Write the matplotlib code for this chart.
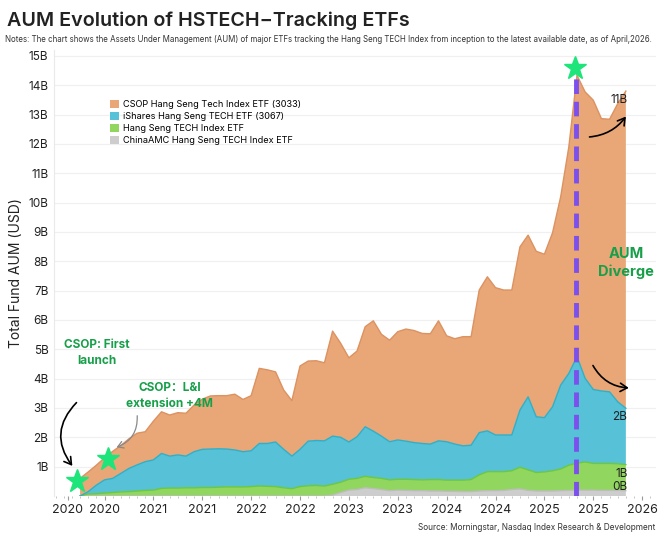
import numpy as np
import matplotlib
matplotlib.use("Agg")
import matplotlib.pyplot as plt
from matplotlib.patches import Patch

plt.rcParams['font.family'] = ['Inter', 'Noto Sans CJK SC', 'DejaVu Sans']

# Monthly AUM (USD billions), Aug 2020 -> Mar 2026
months = ['2020-08', '2020-09', '2020-10', '2020-11', '2020-12',
          '2021-01', '2021-02', '2021-03', '2021-04', '2021-05', '2021-06',
          '2021-07', '2021-08', '2021-09', '2021-10', '2021-11', '2021-12',
          '2022-01', '2022-02', '2022-03', '2022-04', '2022-05', '2022-06',
          '2022-07', '2022-08', '2022-09', '2022-10', '2022-11', '2022-12',
          '2023-01', '2023-02', '2023-03', '2023-04', '2023-05', '2023-06',
          '2023-07', '2023-08', '2023-09', '2023-10', '2023-11', '2023-12',
          '2024-01', '2024-02', '2024-03', '2024-04', '2024-05', '2024-06',
          '2024-07', '2024-08', '2024-09', '2024-10', '2024-11', '2024-12',
          '2025-01', '2025-02', '2025-03', '2025-04', '2025-05', '2025-06',
          '2025-07', '2025-08', '2025-09', '2025-10', '2025-11', '2025-12',
          '2026-01', '2026-02', '2026-03']

csop = [0.60, 0.67, 0.68, 0.75, 0.92, 0.95, 1.01, 1.08, 1.02, 1.32, 1.42,
        1.40, 1.44, 1.46, 1.59, 1.71, 1.81, 1.81, 1.82, 1.90, 1.78, 1.88,
        2.56, 2.51, 2.39, 2.02, 1.89, 2.84, 2.73, 2.72, 2.66, 3.58, 3.20,
        2.87, 2.92, 3.41, 3.76, 3.47, 3.46, 3.69, 3.82, 3.82, 3.75, 3.76,
        4.09, 3.61, 3.59, 3.72, 3.70, 4.86, 5.25, 5.02, 4.94, 4.94, 5.56,
        5.51, 5.64, 5.57, 5.93, 6.42, 7.72, 9.59, 9.76, 9.86, 9.28, 9.29,
        10.16, 10.81]
ishares = [0.00, 0.08, 0.29, 0.45, 0.48, 0.63, 0.79, 0.89, 0.98, 1.03, 1.19,
           1.09, 1.13, 1.08, 1.23, 1.30, 1.31, 1.31, 1.29, 1.26, 1.20, 1.22,
           1.45, 1.46, 1.52, 1.31, 1.11, 1.27, 1.52, 1.53, 1.54, 1.64, 1.53,
           1.27, 1.42, 1.69, 1.58, 1.44, 1.30, 1.34, 1.30, 1.26, 1.24, 1.21,
           1.32, 1.31, 1.23, 1.17, 1.17, 1.44, 1.39, 1.25, 1.25, 1.22, 1.95,
           2.49, 1.90, 1.85, 2.18, 2.86, 3.13, 3.63, 2.85, 2.52, 2.47, 2.44,
           2.11, 1.92]
hstech = [0.00, 0.07, 0.08, 0.10, 0.12, 0.14, 0.15, 0.17, 0.19, 0.20, 0.26,
          0.27, 0.27, 0.28, 0.28, 0.29, 0.29, 0.30, 0.31, 0.31, 0.31, 0.32,
          0.34, 0.33, 0.32, 0.28, 0.25, 0.32, 0.35, 0.36, 0.34, 0.37, 0.35,
          0.37, 0.38, 0.39, 0.38, 0.38, 0.37, 0.37, 0.38, 0.38, 0.37, 0.39,
          0.39, 0.38, 0.38, 0.39, 0.41, 0.55, 0.65, 0.65, 0.64, 0.64, 0.74,
          0.70, 0.63, 0.65, 0.69, 0.74, 0.86, 0.92, 0.96, 0.91, 0.92, 0.92,
          0.91, 0.89]
chinaamc = [0.00] * 31 + [0.03, 0.12, 0.20, 0.22, 0.28, 0.25, 0.22, 0.18,
                          0.20, 0.19, 0.18, 0.18, 0.17, 0.17, 0.16, 0.16,
                          0.15, 0.15, 0.17, 0.18, 0.18, 0.19, 0.22, 0.24,
                          0.19, 0.17, 0.17, 0.17, 0.18, 0.19, 0.20, 0.20,
                          0.20, 0.19, 0.19, 0.19, 0.18]

labels = ['CSOP Hang Seng Tech Index ETF (3033)',
          'iShares Hang Seng TECH ETF (3067)',
          'Hang Seng TECH Index ETF',
          'ChinaAMC Hang Seng TECH Index ETF']
colors = ['#E9A677', '#56C1D7', '#91D65F', '#CDCDCD']
edge_colors = ['#DC9261', '#2FB0C8', '#6CC83E', '#BDBDBD']

tick_months = ['2020-11', '2021-05', '2021-11', '2022-05', '2022-11', '2023-05',
               '2023-11', '2024-05', '2024-11', '2025-05', '2025-11']

x = np.arange(len(months))

fig = plt.figure(figsize=(6.62, 5.41), dpi=100)
ax = fig.add_axes([54 / 662, 45 / 541, 602 / 662, 446 / 541])

series = [chinaamc, hstech, ishares, csop]
ax.stackplot(x, *series, colors=colors[::-1], linewidth=0)
tops = np.cumsum(np.array(series, dtype=float), axis=0)
for top, ec in zip(tops, edge_colors[::-1]):
    ax.plot(x, top, color=ec, lw=1.0)

ax.set_ylim(0, 15.2)
ax.set_xlim(-3.2, 70.7)
ax.set_yticks(np.arange(1, 16))
ax.set_yticklabels([f'{v}B' for v in range(1, 16)])
ax.grid(True, axis='y', color='#F0F0F0', lw=0.9)
ax.set_axisbelow(True)
for s in ['top', 'right', 'bottom']:
    ax.spines[s].set_visible(False)
ax.spines['left'].set_color('#EAEAEA')
ax.tick_params(axis='y', length=0, labelsize=8.5, pad=4, labelcolor='#222222')

tick_pos = [-1.5] + [months.index(m) for m in tick_months] + [len(months) + 1]
tick_lab = ['2020'] + [m[:4] for m in tick_months] + ['2026']
ax.set_xticks(tick_pos)
ax.set_xticklabels(tick_lab)
ax.set_xticks(np.arange(-3, 71), minor=True)
ax.tick_params(axis='x', which='major', length=3, color='#999999', labelsize=9,
               pad=3, labelcolor='#222222')
ax.tick_params(axis='x', which='minor', length=1.5, color='#BBBBBB')
ax.set_ylabel('Total Fund AUM (USD)', fontsize=10, color='#222222')
ax.yaxis.set_label_coords(-0.052, 0.5)

handles = [Patch(facecolor=c, edgecolor='none') for c in colors]
ax.legend(handles, labels, loc='upper left', bbox_to_anchor=(0.087, 0.896),
          frameon=False, fontsize=6.6, handlelength=0.95, handleheight=0.95,
          handletextpad=0.5, labelspacing=0.3, borderaxespad=0)

# peak marker line
peak = int(np.argmax(tops[-1]))
ax.vlines(peak - 0.1, 0, tops[-1][peak], colors='#7B50EC', lw=3.5,
          linestyles=(0, (3, 1.6)), zorder=5)

star = dict(marker='*', color='#1DE57A', markersize=17, zorder=6, clip_on=False)
ax.plot(-0.37, 0.51, **star)
ax.plot(3.44, 1.26, **star)
ax.plot(peak - 0.3, 14.58, **star)

green = '#179F49'
ax.text(2.1, 4.87, 'CSOP: First\nlaunch', color=green, fontsize=8.5,
        fontweight='bold', ha='center', va='center', linespacing=1.5)
ax.text(11.0, 3.41, 'CSOP：L&I\nextension +4M', color=green, fontsize=8.5,
        fontweight='bold', ha='center', va='center', linespacing=1.5)
ax.text(67.0, 7.94, 'AUM\nDiverge', color=green, fontsize=10.5,
        fontweight='bold', ha='center', va='center', linespacing=1.3)

ax.annotate('', xy=(-0.74, 0.95), xytext=(-0.2, 3.25),
            arrowprops=dict(arrowstyle='->,head_length=0.5,head_width=0.3',
                            color='black', lw=1.2,
                            connectionstyle='arc3,rad=0.45'))
ax.annotate('', xy=(4.17, 1.63), xytext=(6.99, 2.83),
            arrowprops=dict(arrowstyle='->,head_length=0.4,head_width=0.25',
                            color='#888888', lw=0.9,
                            connectionstyle='arc3,rad=-0.4'))
ax.annotate('', xy=(67.2, 13.01), xytext=(62.2, 12.23),
            arrowprops=dict(arrowstyle='->,head_length=0.5,head_width=0.3',
                            color='black', lw=1.2,
                            connectionstyle='arc3,rad=0.25'))
ax.annotate('', xy=(67.7, 3.68), xytext=(62.8, 4.53),
            arrowprops=dict(arrowstyle='->,head_length=0.5,head_width=0.3',
                            color='black', lw=1.2,
                            connectionstyle='arc3,rad=0.3'))

end_labels = ['11B', '2B', '1B', '0B']
end_y = [13.49, 2.69, 0.75, 0.31]
for t, yv in zip(end_labels, end_y):
    ax.text(67.2, yv, t, fontsize=8.5, ha='right', va='center', color='#222222')

fig.text(7 / 662, 1 - 21 / 541, 'AUM Evolution of HSTECH\u2212Tracking ETFs',
         fontsize=14.2, fontweight='semibold', ha='left', va='center', color='#222222')
fig.text(5 / 662, 1 - 39 / 541,
         'Notes: The chart shows the Assets Under Management (AUM) of major ETFs tracking '
         'the Hang Seng TECH Index from inception to the latest available date, as of April,2026.',
         fontsize=5.7, ha='left', va='center', color='#333333')
fig.text(655 / 662, 1 - 528 / 541,
         'Source: Morningstar, Nasdaq Index Research & Development',
         fontsize=5.9, ha='right', va='center', color='#333333')

fig.savefig('out.png', dpi=100)
